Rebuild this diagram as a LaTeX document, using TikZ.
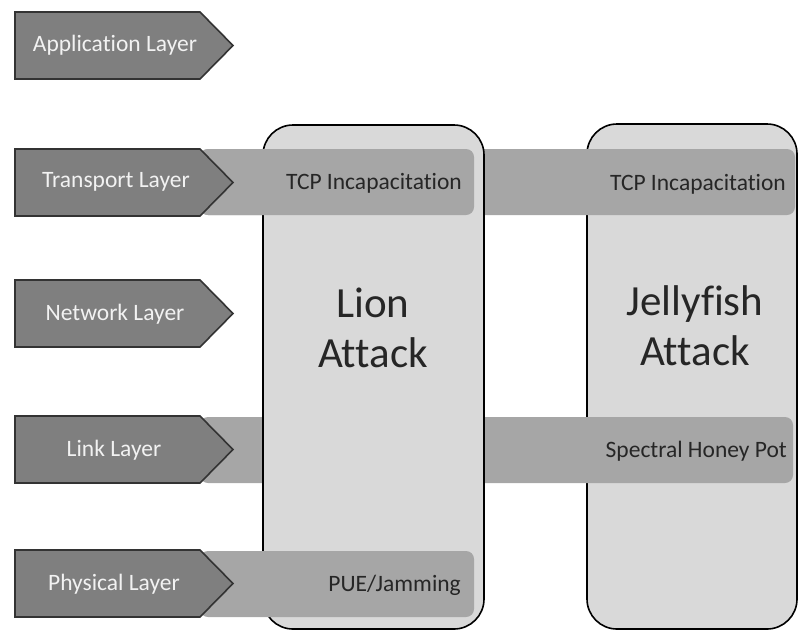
\documentclass[tikz,border=0pt]{standalone}
\usepackage{fontspec}
\setmainfont{Carlito}[Ligatures=NoCommon]
\definecolor{arrowfill}{HTML}{7F7F7F}
\definecolor{arrowline}{HTML}{333333}
\definecolor{bandfill}{HTML}{A6A6A6}
\definecolor{boxfill}{HTML}{D9D9D9}
\definecolor{bandtext}{HTML}{262626}
\definecolor{arrowtext}{HTML}{F2F2F2}
\tikzset{
  attackbox/.style={draw=black, line width=1.6pt, fill=boxfill, rounded corners=30pt},
  band/.style={fill=bandfill, rounded corners=8pt},
  layerarrow/.style={draw=arrowline, line width=1.6pt, fill=arrowfill},
  layertext/.style={text=arrowtext, font=\fontsize{23.5}{27}\selectfont, inner sep=0pt},
  bandlabel/.style={text=bandtext, font=\fontsize{23.5}{27}\selectfont, inner sep=0pt, anchor=east},
  attacklabel/.style={text=bandtext, font=\fontsize{43}{50}\selectfont, align=center, inner sep=0pt}
}
% draws a layer arrow whose top edge is at #1 and bottom edge at #2
\newcommand{\layerarrowshape}[2]{%
  \draw[layerarrow] (15,#1) -- (200,#1) -- (233,{(#1+#2)/2}) -- (200,#2) -- (15,#2) -- cycle;}
\begin{document}
\begin{tikzpicture}[x=1pt,y=-1pt]
\useasboundingbox (0,0) rectangle (799,630);

% Jellyfish column, lying under the bands
\draw[attackbox] (587,124) rectangle (797,629);

% full-width bands
\fill[band] (200,149) rectangle (795,215);
\fill[band] (200,417) rectangle (793,483);

% Lion column, over the full-width bands
\draw[attackbox] (263,125) rectangle (484,629);

% bands lying over the Lion column
\fill[band] (200,149) rectangle (474,215);
\fill[band] (200,551) rectangle (474,617);

% layer arrows
\layerarrowshape{12}{79}
\layerarrowshape{149}{216}
\layerarrowshape{280}{347}
\layerarrowshape{416}{483}
\layerarrowshape{550}{617}

\node[layertext] (app)  at (115,45)  {Application Layer};
\node[layertext] (trn)  at (116,182) {Transport Layer};
\node[layertext] (net)  at (115,314) {Network Layer};
\node[layertext] (lnk)  at (114,450) {Link Layer};
\node[layertext] (phy)  at (114,584) {Physical Layer};

\node[bandlabel] (tcpa) at (462,183) {TCP Incapacitation};
\node[bandlabel] (tcpb) at (786,184) {TCP Incapacitation};
\node[bandlabel] (shp)  at (787,451) {Spectral Honey Pot};
\node[bandlabel] (pue)  at (461,585) {PUE/Jamming};

\node[attacklabel] (lion) at (373,328) {Lion\\Attack};
\node[attacklabel] (jelly) at (695,326) {Jellyfish\\Attack};
\end{tikzpicture}
\end{document}
